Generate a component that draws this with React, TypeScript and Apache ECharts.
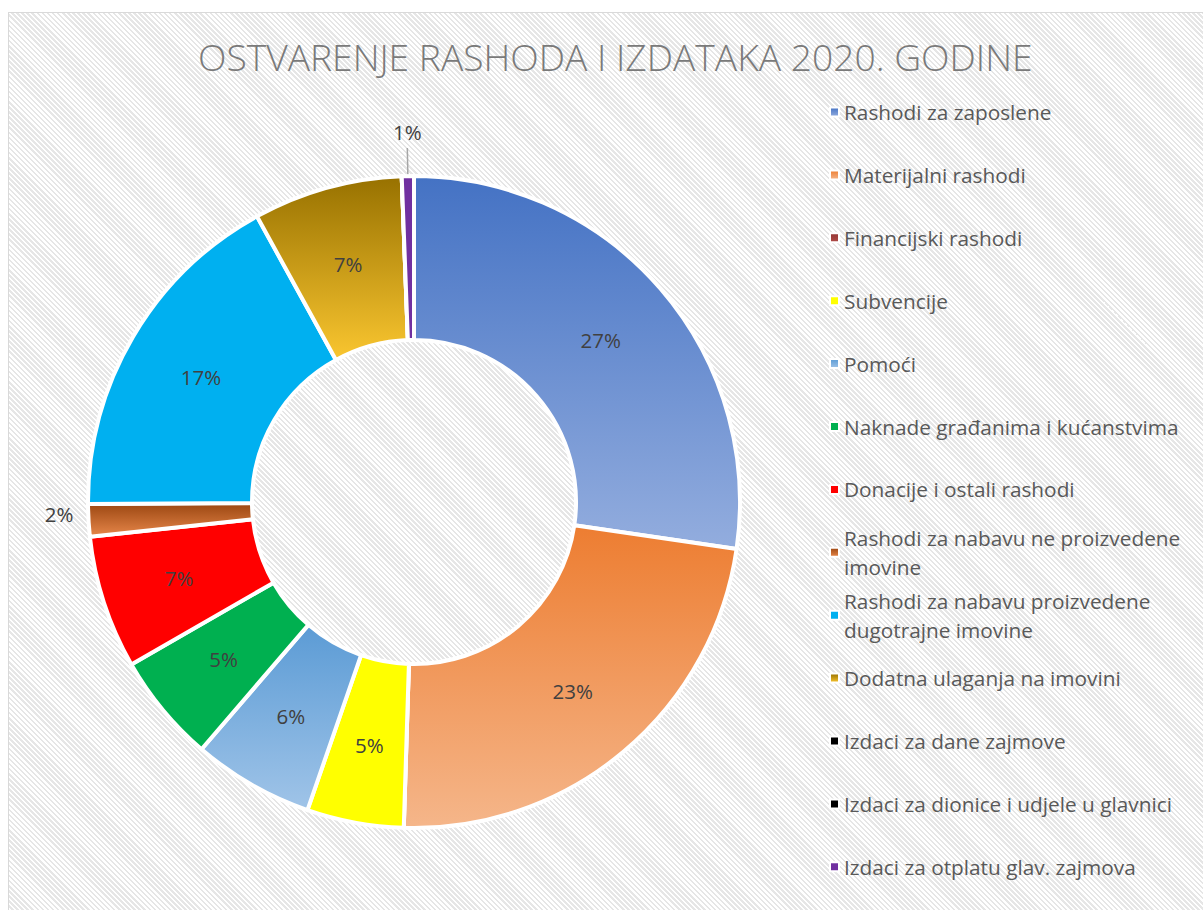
import React, { useEffect, useRef } from "react";
import * as echarts from "echarts";

const chartTitle = "OSTVARENJE RASHODA I IZDATAKA 2020. GODINE";

const categories = [
  "Rashodi za zaposlene",
  "Materijalni rashodi",
  "Financijski rashodi",
  "Subvencije",
  "Pomoći",
  "Naknade građanima i kućanstvima",
  "Donacije i ostali rashodi",
  "Rashodi za nabavu ne proizvedene imovine",
  "Rashodi za nabavu proizvedene dugotrajne imovine",
  "Dodatna ulaganja na imovini",
  "Izdaci za dane zajmove",
  "Izdaci za dionice i udjele u glavnici",
  "Izdaci za otplatu glav. zajmova",
];

const legendLabels = [
  "Rashodi za zaposlene",
  "Materijalni rashodi",
  "Financijski rashodi",
  "Subvencije",
  "Pomoći",
  "Naknade građanima i kućanstvima",
  "Donacije i ostali rashodi",
  "Rashodi za nabavu ne proizvedene\nimovine",
  "Rashodi za nabavu proizvedene\ndugotrajne imovine",
  "Dodatna ulaganja na imovini",
  "Izdaci za dane zajmove",
  "Izdaci za dionice i udjele u glavnici",
  "Izdaci za otplatu glav. zajmova",
];

// share of total, percent
const values = [27.3, 23.2, 0, 4.8, 6.0, 5.4, 6.6, 1.6, 17.1, 7.4, 0, 0, 0.6];

const colorsTop = [
  "#4472C4", "#ED7D31", "#953735", "#FFFF00", "#5B9BD5", "#00B050", "#FF0000",
  "#9A4611", "#00B0F0", "#977100", "#000000", "#000000", "#7030A0",
];
const colorsBottom = [
  "#93ADDE", "#F5B68A", "#B04B48", "#FFFF00", "#A0C4E8", "#00B050", "#FF0000",
  "#E8874A", "#00B0F0", "#FAC630", "#000000", "#000000", "#7030A0",
];

const FONT = "'Open Sans', 'Noto Sans', sans-serif";

export default function App() {
  const ref = useRef<HTMLDivElement>(null);

  useEffect(() => {
    const chart = echarts.init(ref.current!, null, { renderer: "svg" });
    const grad = (i: number) => ({
      type: "linear",
      x: 0,
      y: 0,
      x2: 0,
      y2: 1,
      colorStops: [
        { offset: 0, color: colorsTop[i] },
        { offset: 1, color: colorsBottom[i] },
      ],
    });

    const data = categories.map((name, i) => {
      const item: any = { name, value: values[i], itemStyle: { color: grad(i) } };
      if (values[i] === 0) item.label = { show: false };
      return item;
    });
    // small slices get their labels outside
    data[7].label = { position: "outside" };
    data[7].labelLine = { show: false, length: 10, length2: 0 };
    data[12].label = { position: "outside" };
    data[12].labelLine = {
      show: true,
      length: 28,
      length2: 0,
      lineStyle: { color: "#A6A6A6", width: 1.5 },
    };

    const legends = categories.map((name, i) => {
      const twoLine = legendLabels[i].includes("\n");
      const centerY = 112 + 62.9 * i;
      return {
        left: 829,
        top: centerY - (twoLine ? 43.5 : 14.5),
        orient: "vertical",
        data: [name],
        icon: "rect",
        itemWidth: 9,
        itemHeight: 9,
        itemGap: 0,
        padding: 0,
        selectedMode: false,
        formatter: () => legendLabels[i],
        textStyle: {
          fontSize: 20.8,
          color: "#595959",
          fontFamily: FONT,
          lineHeight: 29,
          padding: twoLine ? [29, 0, 0, 0] : 0,
        },
      };
    });

    chart.setOption({
      animation: false,
      backgroundColor: "transparent",
      title: {
        text: chartTitle,
        left: 193,
        top: 33,
        textStyle: {
          fontFamily: FONT,
          fontWeight: 300,
          fontSize: 37.2,
          color: "#7A7A7A",
        },
      },
      legend: legends,
      series: [
        {
          type: "pie",
          center: [414, 502],
          radius: [162, 326],
          startAngle: 90,
          clockwise: true,
          avoidLabelOverlap: false,
          stillShowZeroSum: true,
          itemStyle: { borderColor: "#FFFFFF", borderWidth: 4 },
          label: {
            show: true,
            position: "inside",
            formatter: (p: any) => `${Math.round(p.percent)}%`,
            fontSize: 20.5,
            color: "#404040",
            fontFamily: FONT,
          },
          labelLayout: (p: any) => {
            if (p.dataIndex === 12) return { align: "center", verticalAlign: "bottom", dx: 5, dy: -6 };
            if (p.dataIndex === 7) return { dy: -7 };
            return {};
          },
          emphasis: { disabled: true },
          data,
        },
      ],
    });
    return () => chart.dispose();
  }, []);

  return (
    <>
      <div
        style={{
          position: "fixed",
          left: 8,
          top: 12,
          right: 0,
          bottom: 0,
          borderLeft: "1.5px solid #D9D9D9",
          borderTop: "1.5px solid #D9D9D9",
          background:
            "repeating-linear-gradient(45deg, #FFFFFF 0px, #FFFFFF 1.8px, #E6E6E6 1.8px, #E6E6E6 3.6px)",
        }}
      />
      <div ref={ref} style={{ position: "fixed", left: 0, top: 0, width: 1203, height: 910 }} />
    </>
  );
}
